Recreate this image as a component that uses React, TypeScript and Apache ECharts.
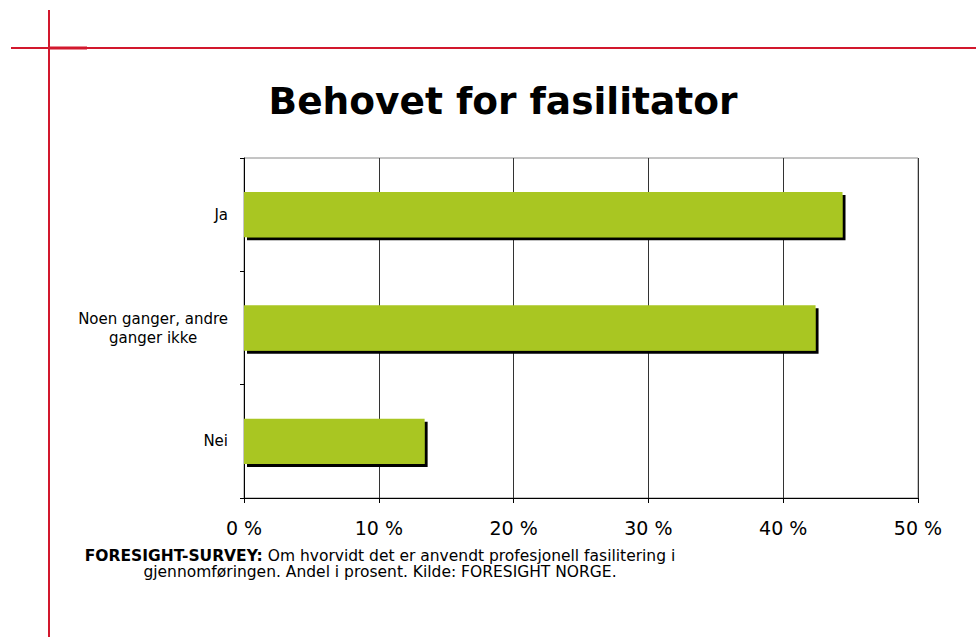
import React, { useEffect, useRef } from "react";
import * as echarts from "echarts";

const categories = ["Ja", "Noen ganger, andre\nganger ikke", "Nei"];
const values = [44.4, 42.4, 13.4];
const xTicks = [0, 10, 20, 30, 40, 50];
const titleText = "Behovet for fasilitator";
const captionBold = "FORESIGHT-SURVEY:";
const captionLine1 = " Om hvorvidt det er anvendt profesjonell fasilitering i";
const captionLine2 = "gjennomføringen. Andel i prosent. Kilde: FORESIGHT NORGE.";

const FONT = "'DejaVu Sans', Verdana, sans-serif";
const RED = "#d2182d";

export default function App() {
  const ref = useRef<HTMLDivElement>(null);
  useEffect(() => {
    if (!ref.current) return;
    const chart = echarts.init(ref.current, undefined, { renderer: "svg" });
    chart.setOption({
      animation: false,
      backgroundColor: "#ffffff",
      title: {
        text: titleText,
        left: 498,
        top: 77,
        textAlign: "center",
        textStyle: { fontFamily: FONT, fontSize: 37.5, fontWeight: "bold", color: "#000" },
      },
      grid: {
        left: 244,
        right: 58,
        top: 158,
        bottom: 139,
        show: true,
        borderColor: "#8a8a8a",
        borderWidth: 1,
      },
      xAxis: {
        type: "value",
        min: xTicks[0],
        max: xTicks[xTicks.length - 1],
        interval: 10,
        axisLine: { show: true, lineStyle: { color: "#000", width: 1 } },
        axisTick: { show: true, length: 5, lineStyle: { color: "#000" } },
        splitLine: { show: true, lineStyle: { color: "#333", width: 1 } },
        axisLabel: {
          margin: 20,
          fontFamily: FONT,
          fontSize: 19,
          color: "#000",
          formatter: (v: number) => `${v} %`,
        },
      },
      yAxis: {
        type: "category",
        data: categories,
        inverse: true,
        axisLine: { show: true, lineStyle: { color: "#000", width: 1 } },
        axisTick: { show: true, length: 4, lineStyle: { color: "#000" } },
        splitLine: { show: false },
        axisLabel: {
          margin: 16,
          fontFamily: FONT,
          fontSize: 15,
          color: "#000",
          lineHeight: 19,
          formatter: (v: string) =>
            v
              .split("\n")
              .map((l) => `{c|${l}}`)
              .join("\n"),
          rich: {
            c: { align: "center", fontFamily: FONT, fontSize: 15, color: "#000", lineHeight: 19 },
          },
        },
      },
      series: [
        {
          type: "bar",
          data: values,
          barWidth: "40%",
          itemStyle: {
            color: "#a9c623",
            shadowColor: "#000",
            shadowOffsetX: 3,
            shadowOffsetY: 3,
            shadowBlur: 0,
          },
        },
      ],
      graphic: [
        {
          type: "line",
          shape: { x1: 49, y1: 10, x2: 49, y2: 637 },
          style: { stroke: RED, lineWidth: 2 },
        },
        {
          type: "line",
          shape: { x1: 11, y1: 48, x2: 976, y2: 48 },
          style: { stroke: RED, lineWidth: 2 },
        },
        {
          type: "line",
          shape: { x1: 49, y1: 48, x2: 87, y2: 48 },
          style: { stroke: RED, lineWidth: 3 },
        },
        {
          type: "text",
          x: 380,
          y: 564,
          style: {
            text: `{b|${captionBold}}{n|${captionLine1}}\n{n|${captionLine2}}`,
            align: "center",
            verticalAlign: "middle",
            rich: {
              b: { fontFamily: FONT, fontSize: 15.5, fontWeight: "bold", fill: "#000", align: "center", lineHeight: 16.5 },
              n: { fontFamily: FONT, fontSize: 15.5, fill: "#000", align: "center", lineHeight: 16.5 },
            },
          },
        },
      ],
    });
    return () => chart.dispose();
  }, []);
  return (
    <div
      ref={ref}
      style={{ position: "absolute", left: 0, top: 0, width: 976, height: 637 }}
    />
  );
}
